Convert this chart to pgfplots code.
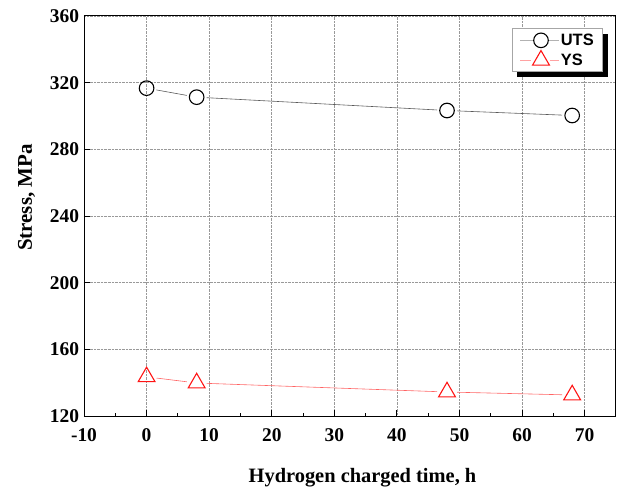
\documentclass[border=0pt]{standalone}
\usepackage{pgfplots}
\pgfplotsset{compat=1.18}
\usepackage{fontspec}
\setmainfont{Liberation Serif}
\newfontfamily\arialfont{Liberation Sans}
\usetikzlibrary{shadows}
\definecolor{utsline}{RGB}{90,90,90}
\definecolor{ysline}{RGB}{255,100,100}
\definecolor{ysred}{RGB}{255,20,20}
\makeatletter
\tikzset{nopre/.code={\let\tikz@preactions\pgfutil@empty}}
\makeatother
\begin{document}
\begin{tikzpicture}
\path[use as bounding box] (-84bp,-72bp) rectangle (539bp,416bp);
\begin{axis}[
  scale only axis,
  width=532bp, height=400bp,
  xmin=-10, xmax=75, ymin=120, ymax=360,
  xtick={-10,0,10,20,30,40,50,60,70},
  xticklabels={-10,0,10,20,30,40,50,60,70},
  minor xtick={-5,5,15,25,35,45,55,65,75},
  ytick={120,160,200,240,280,320,360},
  yticklabels={120,160,200,240,280,320,360},
  tick pos=left,
  tick align=inside,
  major tick length=6bp,
  minor tick length=3bp,
  every tick/.style={black, line width=1pt},
  axis line style={line width=1pt},
  grid=major,
  major grid style={black!40, densely dotted, line width=0.6pt},
  tick label style={font=\fontsize{19.5}{22}\selectfont\bfseries},
  xticklabel style={anchor=base, yshift=-25bp},
  yticklabel style={anchor=east, xshift=-1.5bp},
  xlabel={Hydrogen charged time, h},
  ylabel={Stress, MPa},
  every axis x label/.style={at={(rel axis cs:0.5235,0)}, yshift=-66bp, anchor=base, font=\fontsize{20.5}{22}\selectfont\bfseries},
  every axis y label/.style={at={(rel axis cs:0,0.546)}, xshift=-52bp, rotate=90, anchor=base, font=\fontsize{21}{22}\selectfont\bfseries},
  legend style={at={(rel axis cs:0.9756,0.969)}, anchor=north east,
    draw=gray!70, line width=0.6pt, fill=white,
    drop shadow={shadow xshift=5bp, shadow yshift=-5bp, fill=black, opacity=1},
    font=\arialfont\fontsize{16.5}{18}\selectfont\bfseries,
    nodes={nopre, inner sep=1bp},
    inner xsep=8bp, inner ysep=3.8bp, row sep=1.8bp},
  legend cell align=left,
]
% UTS line segments
\addplot[utsline, line width=0.6pt, shorten <=10bp, shorten >=10bp, forget plot] coordinates {(0,316.7) (8,311.3)};
\addplot[utsline, line width=0.6pt, shorten <=10bp, shorten >=10bp, forget plot] coordinates {(8,311.3) (48,303.3)};
\addplot[utsline, line width=0.6pt, shorten <=10bp, shorten >=10bp, forget plot] coordinates {(48,303.3) (68,300.3)};
% YS line segments
\addplot[ysline, line width=0.6pt, shorten <=10bp, shorten >=10bp, forget plot] coordinates {(0,143.5) (8,139.8)};
\addplot[ysline, line width=0.6pt, shorten <=10bp, shorten >=10bp, forget plot] coordinates {(8,139.8) (48,134.4)};
\addplot[ysline, line width=0.6pt, shorten <=10bp, shorten >=10bp, forget plot] coordinates {(48,134.4) (68,132.6)};
% markers
\addplot[only marks, mark=o, mark size=7.3bp, mark options={black, line width=1.1pt},
  legend image code/.code={
    \draw[nopre,gray!60,line width=0.7pt](0bp,0bp)--(13bp,0bp);
    \draw[nopre,gray!60,line width=0.7pt](28bp,0bp)--(39bp,0bp);
    \draw[nopre,black,line width=1.1pt](20.5bp,0bp) circle (7.3bp);}]
  coordinates {(0,316.7) (8,311.3) (48,303.3) (68,300.3)};
\addlegendentry{UTS}
\addplot[only marks, mark=triangle, mark size=9.7bp, mark options={ysred, line width=1.1pt},
  legend image code/.code={
    \draw[nopre,ysline!60,line width=0.7pt](0bp,0bp)--(11bp,0bp);
    \draw[nopre,ysline!60,line width=0.7pt](30bp,0bp)--(39bp,0bp);
    \draw[nopre,ysred,line width=1.1pt](20.5bp,9.7bp)--(28.9bp,-4.85bp)--(12.1bp,-4.85bp)--cycle;}]
  coordinates {(0,143.5) (8,139.8) (48,134.4) (68,132.6)};
\addlegendentry{YS}
\end{axis}
\end{tikzpicture}
\end{document}
